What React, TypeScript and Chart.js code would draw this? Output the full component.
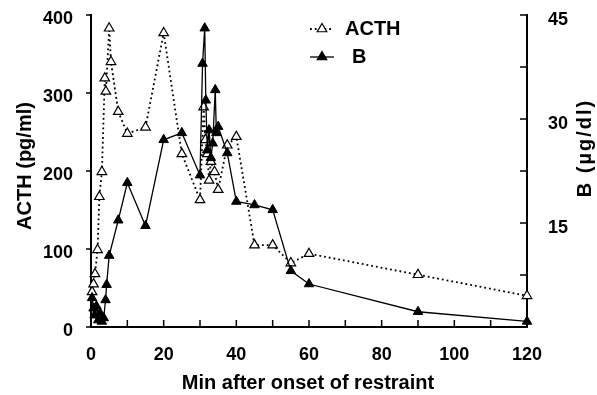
import React, { useEffect, useRef } from "react";
import { Chart, registerables } from "chart.js";

Chart.register(...registerables);

// ---- data ----
const acthTimes = [0.3, 0.7, 1.1, 1.8, 2.3, 3, 3.8, 4.1, 5, 5.5, 7.5, 10, 15, 20, 25, 30, 31, 31.5, 32, 32.5, 33, 34, 35, 37.5, 40, 45, 50, 55, 60, 90, 120];
const acthValues = [45, 55, 68, 99, 167, 199, 319, 302, 383, 340, 276, 248, 256, 377, 222, 163, 282, 240, 222, 188, 212, 199, 176, 233, 244, 105, 105, 82, 94, 67, 40];

const bTimes = [0.3, 0.7, 1, 1.5, 2, 2.5, 3, 3.5, 4, 4.3, 5, 7.5, 10, 15, 20, 25, 30, 30.7, 31.3, 31.6, 32, 32.5, 33, 33.5, 34.2, 34.5, 35, 37.5, 40, 45, 50, 55, 60, 90, 120];
const bValues = [4.2, 2.7, 1.7, 3.0, 1.0, 2.0, 0.8, 1.3, 3.9, 6.1, 10.3, 15.4, 20.8, 14.6, 27, 28, 21.9, 38, 43.1, 32.7, 25.5, 28.4, 24.4, 26.5, 34.2, 28, 28.9, 25.1, 18.1, 17.6, 16.9, 8.1, 6.2, 2.2, 0.8];

const xTickLabels = [0, 20, 40, 60, 80, 100, 120];
const xTickMarks = [0, 10, 20, 30, 40, 50, 60, 70, 80, 90, 100, 110, 120];
const leftTickLabels = [0, 100, 200, 300, 400];
const rightTickLabels = [15, 30, 45];
const rightTickMarks = [0, 7.5, 15, 22.5, 30, 37.5, 45];

const seriesNames = ["ACTH", "B"];
const xTitle = "Min after onset of restraint";
const leftTitle = "ACTH (pg/ml)";
const rightTitle = "B (\u00b5g/dl)";

const FONT = '"Liberation Sans", Arial, sans-serif';

function triangle(ctx: CanvasRenderingContext2D, x: number, y: number, r: number, fill: string) {
  const t = (2 * Math.PI) / 3;
  ctx.beginPath();
  for (let i = 0; i < 3; i++) {
    const a = i * t;
    const px = x + Math.sin(a) * r;
    const py = y - Math.cos(a) * r;
    if (i === 0) ctx.moveTo(px, py);
    else ctx.lineTo(px, py);
  }
  ctx.closePath();
  ctx.fillStyle = fill;
  ctx.fill();
  ctx.lineWidth = 1.2;
  ctx.strokeStyle = "#000";
  ctx.setLineDash([]);
  ctx.stroke();
}

export default function App() {
  const ref = useRef<HTMLCanvasElement>(null);

  useEffect(() => {
    const canvas = ref.current!;

    const axesPlugin = {
      id: "customAxes",
      beforeDatasetsDraw(chart: any) {
        const { ctx, chartArea: a, scales } = chart;
        ctx.save();
        ctx.strokeStyle = "#000";
        ctx.lineWidth = 2;
        ctx.setLineDash([]);
        ctx.beginPath();
        ctx.moveTo(a.left, a.top - 1);
        ctx.lineTo(a.left, a.bottom + 1);
        ctx.moveTo(a.right, a.top - 1);
        ctx.lineTo(a.right, a.bottom + 1);
        ctx.moveTo(a.left - 1, a.bottom);
        ctx.lineTo(a.right + 1, a.bottom);
        ctx.stroke();
        ctx.lineWidth = 1.5;
        ctx.beginPath();
        for (const v of leftTickLabels) {
          const y = scales.yL.getPixelForValue(v);
          ctx.moveTo(a.left - 5, y);
          ctx.lineTo(a.left, y);
        }
        for (const v of rightTickMarks) {
          const y = scales.yR.getPixelForValue(v);
          ctx.moveTo(a.right - 7, y);
          ctx.lineTo(a.right, y);
        }
        for (const v of xTickMarks) {
          const x = scales.x.getPixelForValue(v);
          ctx.moveTo(x, a.bottom - 7);
          ctx.lineTo(x, a.bottom);
        }
        ctx.stroke();
        ctx.restore();
      },
      afterDraw(chart: any) {
        const { ctx } = chart;
        ctx.save();
        ctx.fillStyle = "#000";
        ctx.font = `bold 20px ${FONT}`;
        ctx.textAlign = "center";
        ctx.textBaseline = "middle";
        ctx.fillText(xTitle, 308, 383);
        ctx.save();
        ctx.translate(25, 166);
        ctx.rotate(-Math.PI / 2);
        ctx.fillText(leftTitle, 0, 0);
        ctx.restore();
        ctx.save();
        ctx.translate(585, 148);
        ctx.rotate(-Math.PI / 2);
        (ctx as any).letterSpacing = "2px";
        ctx.fillText(rightTitle, 0, 0);
        (ctx as any).letterSpacing = "0px";
        ctx.restore();

        // legend
        const y1 = 29;
        const y2 = 57;
        ctx.strokeStyle = "#000";
        ctx.lineWidth = 1.8;
        ctx.setLineDash([1.8, 3]);
        ctx.beginPath();
        ctx.moveTo(310, y1);
        ctx.lineTo(334, y1);
        ctx.stroke();
        triangle(ctx, 322, y1, 5.5, "#fff");
        ctx.setLineDash([]);
        ctx.lineWidth = 1.3;
        ctx.beginPath();
        ctx.moveTo(310, y2);
        ctx.lineTo(334, y2);
        ctx.stroke();
        triangle(ctx, 322, y2, 5.5, "#000");
        ctx.fillStyle = "#000";
        ctx.textAlign = "left";
        ctx.fillText(seriesNames[0], 345, y1);
        ctx.fillText(seriesNames[1], 352, y2);
        ctx.restore();
      },
    };

    const tickFont = { size: 18, weight: "bold" as const, family: FONT };

    const chart = new Chart(canvas, {
      type: "line",
      data: {
        datasets: [
          {
            label: seriesNames[1],
            data: bTimes.map((t, i) => ({ x: t, y: bValues[i] })),
            yAxisID: "yR",
            borderColor: "#000",
            borderWidth: 1.3,
            pointStyle: "triangle",
            pointRadius: 5.5,
            pointBackgroundColor: "#000",
            pointBorderColor: "#000",
            pointBorderWidth: 1,
            tension: 0,
            clip: false as any,
          },
          {
            label: seriesNames[0],
            data: acthTimes.map((t, i) => ({ x: t, y: acthValues[i] })),
            yAxisID: "yL",
            borderColor: "#000",
            borderWidth: 1.8,
            borderDash: [1.8, 3],
            pointStyle: "triangle",
            pointRadius: 5.5,
            pointBackgroundColor: "#fff",
            pointBorderColor: "#000",
            pointBorderWidth: 1.2,
            tension: 0,
            clip: false as any,
          },
        ],
      },
      options: {
        responsive: false,
        devicePixelRatio: 1,
        animation: false,
        layout: { padding: { top: 15, left: 0, right: 0, bottom: 0 } },
        plugins: { legend: { display: false }, tooltip: { enabled: false } },
        scales: {
          x: {
            type: "linear",
            min: 0,
            max: 120,
            afterBuildTicks: (s: any) => {
              s.ticks = xTickLabels.map((v) => ({ value: v }));
            },
            ticks: { font: tickFont, color: "#000", padding: 17, autoSkip: false, maxRotation: 0 },
            grid: { display: false, drawTicks: false },
            border: { display: false },
            afterFit: (s: any) => {
              s.height = 68;
              s.paddingLeft = 0;
              s.paddingRight = 0;
            },
          },
          yL: {
            type: "linear",
            position: "left",
            min: 0,
            max: 400,
            afterBuildTicks: (s: any) => {
              s.ticks = leftTickLabels.map((v) => ({ value: v }));
            },
            ticks: { font: tickFont, color: "#000", padding: 18, autoSkip: false, labelOffset: 4 },
            grid: { display: false, drawTicks: false },
            border: { display: false },
            afterFit: (s: any) => {
              s.width = 91;
              s.paddingTop = 0;
              s.paddingBottom = 0;
            },
          },
          yR: {
            type: "linear",
            position: "right",
            min: 0,
            max: 45,
            afterBuildTicks: (s: any) => {
              s.ticks = rightTickLabels.map((v) => ({ value: v }));
            },
            ticks: { font: tickFont, color: "#000", padding: 21, autoSkip: false, labelOffset: 5 },
            grid: { display: false, drawTicks: false },
            border: { display: false },
            afterFit: (s: any) => {
              s.width = 70;
              s.paddingTop = 0;
              s.paddingBottom = 0;
            },
          },
        },
      },
      plugins: [axesPlugin],
    });

    return () => chart.destroy();
  }, []);

  return (
    <div style={{ position: "fixed", left: 0, top: 0, width: 597, height: 395 }}>
      <canvas ref={ref} width={597} height={395} style={{ display: "block" }} />
    </div>
  );
}
